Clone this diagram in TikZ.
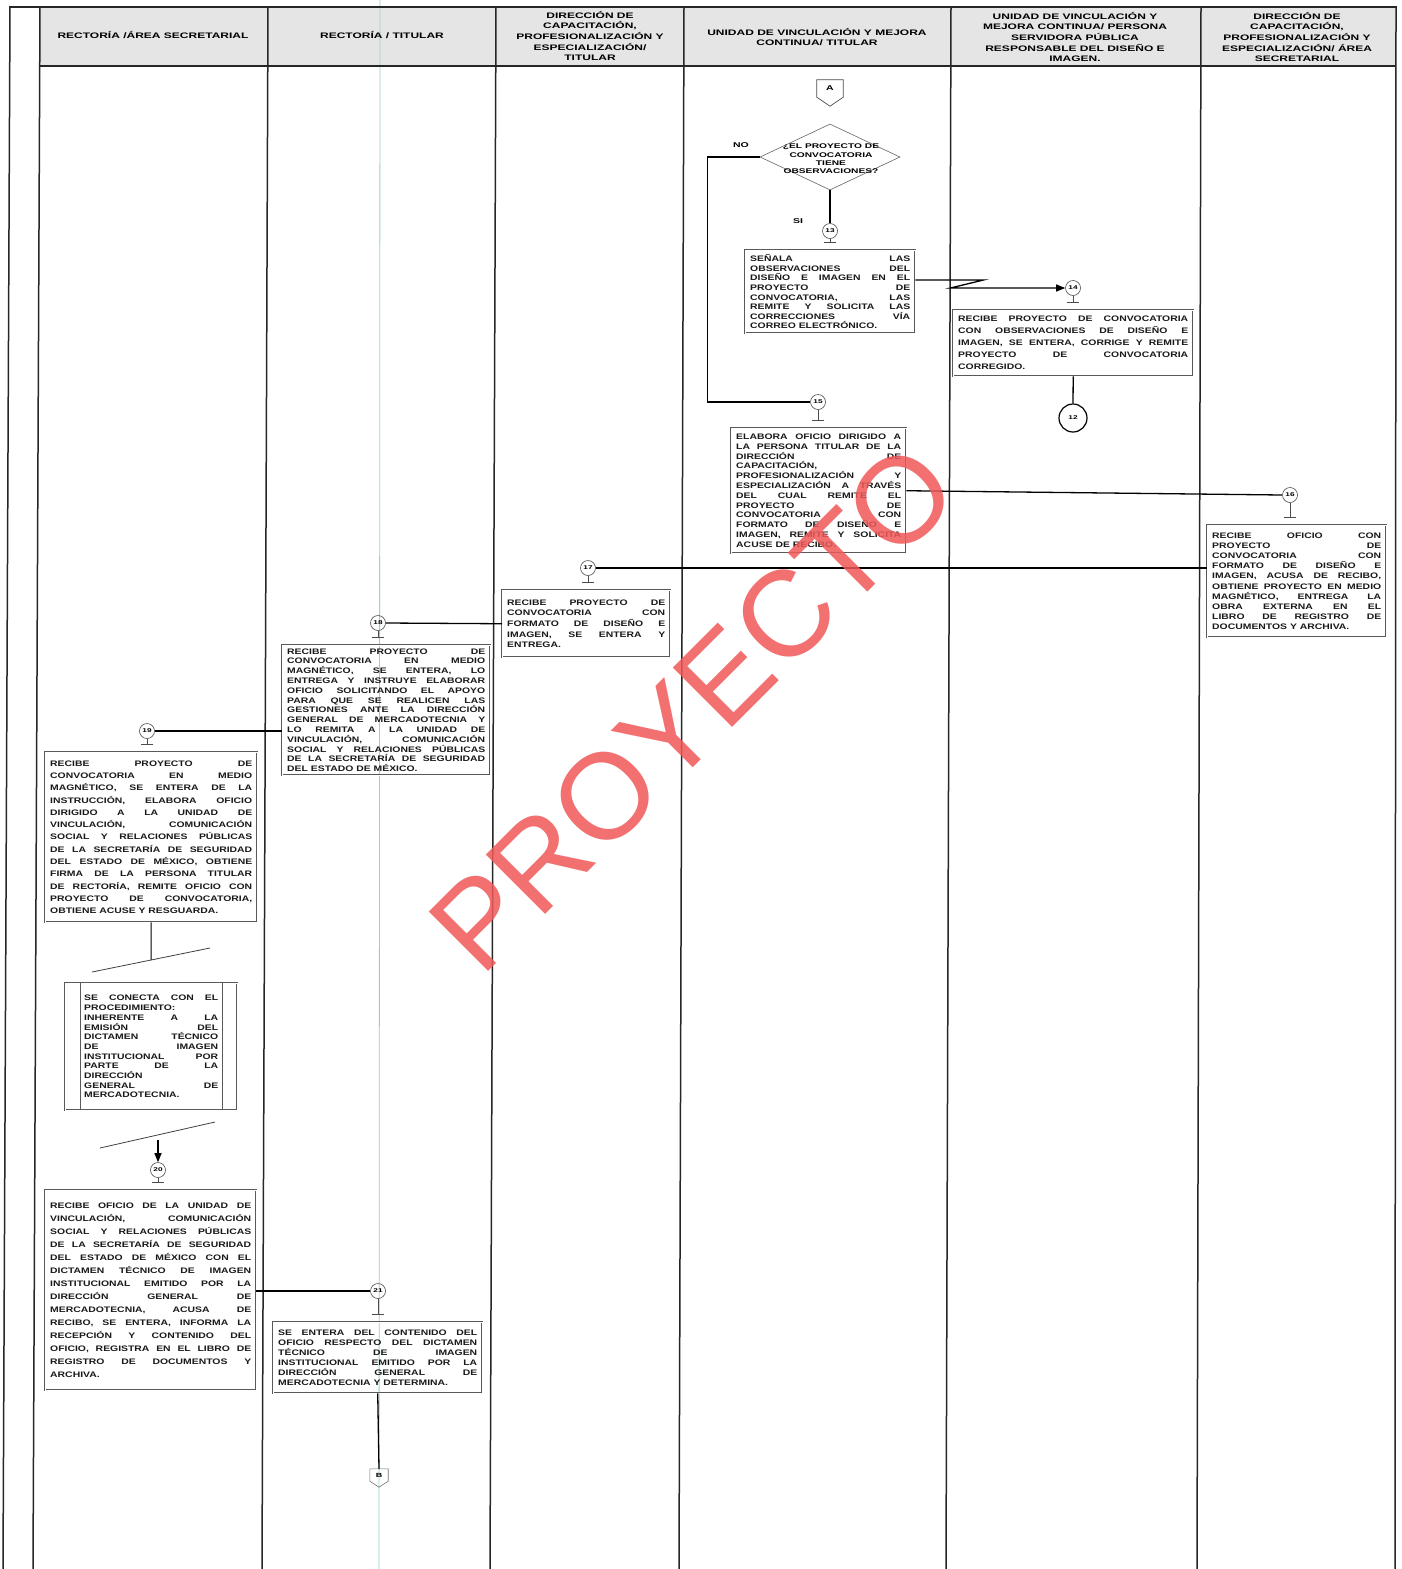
\documentclass[tikz,border=0pt]{standalone}
\usepackage{fontspec}
\setmainfont{Liberation Sans}
\newfontfamily\boxfont[FakeStretch=1.3]{Liberation Sans}
\newfontfamily\hdrfont[FakeStretch=1.5]{Liberation Sans}
\usetikzlibrary{shapes.geometric,calc,arrows.meta}
\tolerance=10000 \hbadness=10000 \hyphenpenalty=10000
\def\bt#1{\boxfont\bfseries\fontsize{8}{#1}\selectfont}
\tikzset{
  proc/.style={draw=black!65, line width=0.45pt, double=white, double distance=1.1pt,
    anchor=north west, inner sep=0pt, align=justify, text=black!90},
  conn/.style={circle, draw=black!70, line width=0.6pt, minimum size=15pt, inner sep=0pt,
    font=\hdrfont\bfseries\fontsize{5.5}{6}\selectfont},
  flow/.style={draw=black, line width=1.3pt},
  stemline/.style={draw=black!70, line width=0.6pt},
  lane/.style={draw=black!85, line width=1.5pt},
  hdr/.style={align=center, inner sep=0pt, font=\hdrfont\bfseries\fontsize{8}{10.6}\selectfont},
  lbl/.style={inner sep=0pt, font=\hdrfont\bfseries\fontsize{7}{8}\selectfont},
}
\newcommand\stemto[2]{\draw[stemline] (#1.south) -- ($(#1.south |- #2.north)+(0,-8)$);
  \draw[stemline] ($(#1.south |- #2.north)+(-6,-8)$) -- ($(#1.south |- #2.north)+(6,-8)$);}
\begin{document}
\begin{tikzpicture}[x=1pt,y=-1pt]
\useasboundingbox (0,0) rectangle (1401,1569);
\fill[white] (0,0) rectangle (1401,1569);
% header
\fill[black!10] (40,7) rectangle (1396,66);
\draw[color={rgb,255:red,150;green,210;blue,200}, line width=0.8pt] (380,0) -- (379,1569);
\foreach \xt/\xb in {10/3, 40/33, 268/262, 496/490, 684/679, 951/946, 1201/1197, 1396/1395}
  \draw[lane] (\xt,6) -- (\xb,1569);
\draw[lane] (10,7) -- (1396,7);
\draw[lane] (40,66) -- (1396,66);
\node[hdr] (h1) at (153,35) {RECTORÍA /ÁREA SECRETARIAL};
\node[hdr] (h2) at (382,35) {RECTORÍA / TITULAR};
\node[hdr] (h3) at (590,36) {DIRECCIÓN DE\\CAPACITACIÓN,\\PROFESIONALIZACIÓN Y\\ESPECIALIZACIÓN/\\TITULAR};
\node[hdr] (h4) at (817,37) {UNIDAD DE VINCULACIÓN Y MEJORA\\CONTINUA/ TITULAR};
\node[hdr] (h5) at (1075,37) {UNIDAD DE VINCULACIÓN Y\\MEJORA CONTINUA/ PERSONA\\SERVIDORA PÚBLICA\\RESPONSABLE DEL DISEÑO E\\IMAGEN.};
\node[hdr] (h6) at (1297,37) {DIRECCIÓN DE\\CAPACITACIÓN,\\PROFESIONALIZACIÓN Y\\ESPECIALIZACIÓN/ ÁREA\\SECRETARIAL};

% off-page connector A
\node[inner sep=0pt, minimum width=26pt, minimum height=17pt, font=\hdrfont\bfseries\fontsize{7}{8}\selectfont] (A) at (830,88.5) {A};
\draw[draw=black!70, line width=0.7pt] (A.north west) -- (A.north east) -- (A.south east) -- ($(A.south)+(0,9)$) -- (A.south west) -- cycle;

% decision
\node[diamond, draw=black!60, line width=0.6pt, minimum width=140pt, minimum height=66pt, inner sep=0pt] (dia) at (830,157) {};
\node[lbl, align=center, font=\hdrfont\bfseries\fontsize{6.8}{8.4}\selectfont] (diat) at (831,159) {¿EL PROYECTO DE\\CONVOCATORIA\\TIENE\\OBSERVACIONES?};
\node[lbl] (no) at (741,145) {NO};
\node[lbl] (si) at (798,221) {SI};

% connectors (circles)
\node[conn] (c13) at (830,231) {13};
\node[conn] (c14) at (1073,288) {14};
\node[conn, minimum size=28pt, line width=1.2pt, draw=black] (c12) at (1073,418) {12};
\node[conn] (c15) at (818,402) {15};
\node[conn] (c16) at (1290,495) {16};
\node[conn] (c17) at (588,568) {17};
\node[conn] (c18) at (378,623) {18};
\node[conn] (c19) at (147,731) {19};
\node[conn] (c20) at (158,1170) {20};
\node[conn] (c21) at (378,1291) {21};

% process boxes
\node[proc, minimum width=170pt, minimum height=83pt, text width=160pt, font=\bt{9.6}] (b13) at (745,250)
{SEÑALA LAS\linebreak OBSERVACIONES DEL\linebreak DISEÑO E IMAGEN EN EL\linebreak PROYECTO DE\linebreak CONVOCATORIA, LAS\linebreak REMITE Y SOLICITA LAS\linebreak CORRECCIONES VÍA\linebreak CORREO ELECTRÓNICO.};

\node[proc, minimum width=240pt, minimum height=66pt, text width=230pt, font=\bt{12}] (b14) at (953,310)
{RECIBE PROYECTO DE CONVOCATORIA\linebreak CON OBSERVACIONES DE DISEÑO E\linebreak IMAGEN, SE ENTERA, CORRIGE Y REMITE\linebreak PROYECTO DE CONVOCATORIA\linebreak CORREGIDO.};

\node[proc, minimum width=175pt, minimum height=125pt, text width=165pt, font=\bt{9.8}] (b15) at (731,428)
{ELABORA OFICIO DIRIGIDO A\linebreak LA PERSONA TITULAR DE LA\linebreak DIRECCIÓN DE\linebreak CAPACITACIÓN,\linebreak PROFESIONALIZACIÓN Y\linebreak ESPECIALIZACIÓN A TRAVÉS\linebreak DEL CUAL REMITE EL\linebreak PROYECTO DE\linebreak CONVOCATORIA CON\linebreak FORMATO DE DISEÑO E\linebreak IMAGEN, REMITE Y SOLICITA\linebreak ACUSE DE RECIBO.};

\node[proc, minimum width=179pt, minimum height=112pt, text width=169pt, font=\bt{10.2}] (b16) at (1207,525)
{RECIBE OFICIO CON\linebreak PROYECTO DE\linebreak CONVOCATORIA CON\linebreak FORMATO DE DISEÑO E\linebreak IMAGEN, ACUSA DE RECIBO,\linebreak OBTIENE PROYECTO EN MEDIO\linebreak MAGNÉTICO, ENTREGA LA\linebreak OBRA EXTERNA EN EL\linebreak LIBRO DE REGISTRO DE\linebreak DOCUMENTOS Y ARCHIVA.};

\node[proc, minimum width=168pt, minimum height=67pt, text width=158pt, font=\bt{10.6}] (b17) at (502,590)
{RECIBE PROYECTO DE\linebreak CONVOCATORIA CON\linebreak FORMATO DE DISEÑO E\linebreak IMAGEN, SE ENTERA Y\linebreak ENTREGA.};

\node[proc, minimum width=208pt, minimum height=130pt, text width=198pt, font=\bt{9.8}] (b18) at (282,645)
{RECIBE PROYECTO DE\linebreak CONVOCATORIA EN MEDIO\linebreak MAGNÉTICO, SE ENTERA, LO\linebreak ENTREGA Y INSTRUYE ELABORAR\linebreak OFICIO SOLICITANDO EL APOYO\linebreak PARA QUE SE REALICEN LAS\linebreak GESTIONES ANTE LA DIRECCIÓN\linebreak GENERAL DE MERCADOTECNIA Y\linebreak LO REMITA A LA UNIDAD DE\linebreak VINCULACIÓN, COMUNICACIÓN\linebreak SOCIAL Y RELACIONES PÚBLICAS\linebreak DE LA SECRETARÍA DE SEGURIDAD\linebreak DEL ESTADO DE MÉXICO.};

\node[proc, minimum width=212pt, minimum height=170pt, text width=202pt, font=\bt{12.3}] (b19) at (45,752)
{RECIBE PROYECTO DE\linebreak CONVOCATORIA EN MEDIO\linebreak MAGNÉTICO, SE ENTERA DE LA\linebreak INSTRUCCIÓN, ELABORA OFICIO\linebreak DIRIGIDO A LA UNIDAD DE\linebreak VINCULACIÓN, COMUNICACIÓN\linebreak SOCIAL Y RELACIONES PÚBLICAS\linebreak DE LA SECRETARÍA DE SEGURIDAD\linebreak DEL ESTADO DE MÉXICO, OBTIENE\linebreak FIRMA DE LA PERSONA TITULAR\linebreak DE RECTORÍA, REMITE OFICIO CON\linebreak PROYECTO DE CONVOCATORIA,\linebreak OBTIENE ACUSE Y RESGUARDA.};

\node[proc, minimum width=172pt, minimum height=127pt, text width=134pt, font=\bt{9.7}] (pp) at (65,983)
{SE CONECTA CON EL\linebreak PROCEDIMIENTO:\linebreak INHERENTE A LA\linebreak EMISIÓN DEL\linebreak DICTAMEN TÉCNICO\linebreak DE IMAGEN\linebreak INSTITUCIONAL POR\linebreak PARTE DE LA\linebreak DIRECCIÓN\linebreak GENERAL DE\linebreak MERCADOTECNIA.};
\draw[draw=black!65, line width=0.6pt] ($(pp.north west)+(15,0)$) -- ($(pp.south west)+(15,0)$);
\draw[draw=black!65, line width=0.6pt] ($(pp.north east)+(-15,0)$) -- ($(pp.south east)+(-15,0)$);

\node[proc, minimum width=211pt, minimum height=200pt, text width=201pt, font=\bt{13}] (b20) at (45,1190)
{RECIBE OFICIO DE LA UNIDAD DE\linebreak VINCULACIÓN, COMUNICACIÓN\linebreak SOCIAL Y RELACIONES PÚBLICAS\linebreak DE LA SECRETARÍA DE SEGURIDAD\linebreak DEL ESTADO DE MÉXICO CON EL\linebreak DICTAMEN TÉCNICO DE IMAGEN\linebreak INSTITUCIONAL EMITIDO POR LA\linebreak DIRECCIÓN GENERAL DE\linebreak MERCADOTECNIA, ACUSA DE\linebreak RECIBO, SE ENTERA, INFORMA LA\linebreak RECEPCIÓN Y CONTENIDO DEL\linebreak OFICIO, REGISTRA EN EL LIBRO DE\linebreak REGISTRO DE DOCUMENTOS Y\linebreak ARCHIVA.};

\node[proc, minimum width=209pt, minimum height=71pt, text width=199pt, font=\bt{10}] (b21) at (273,1322)
{SE ENTERA DEL CONTENIDO DEL\linebreak OFICIO RESPECTO DEL DICTAMEN\linebreak TÉCNICO DE IMAGEN\linebreak INSTITUCIONAL EMITIDO POR LA\linebreak DIRECCIÓN GENERAL DE\linebreak MERCADOTECNIA Y DETERMINA.};

% off-page connector B
\node[inner sep=0pt, minimum width=18pt, minimum height=12pt, font=\hdrfont\bfseries\fontsize{6}{7}\selectfont] (B) at (379,1475) {B};
\draw[draw=black!55, line width=0.6pt] (B.north west) -- (B.north east) -- (B.south east) -- ($(B.south)+(0,6)$) -- (B.south west) -- cycle;

% stems
\stemto{c13}{b13}
\stemto{c14}{b14}
\stemto{c15}{b15}
\stemto{c16}{b16}
\stemto{c17}{b17}
\stemto{c18}{b18}
\stemto{c19}{b19}
\stemto{c20}{b20}
\stemto{c21}{b21}

% flow lines
\draw[flow] (dia.west) -- ++(-52,0) |- (c15.west);
\draw[flow] (dia.south) -- (c13.north);
\draw[flow, -{Triangle[length=9pt,width=7pt]}] ($(b13.north east)+(0,30)$) -- ++(68,0) -- ++(-33,8) -- (c14.west);
\draw[flow] (b14.south) -- (c12.north);
\draw[flow] (b15.east) -- (c16.west);
\draw[flow] (c17.east) -- (c17.east -| b16.west);
\draw[flow] (b17.west) -- (c18.east);
\draw[flow] (c19.east) -- (c19.east -| b18.west);
\coordinate (brk1) at (151,960);
\coordinate (brk2) at (158,1140);
\draw[flow, line width=1pt] (b19.south) -- (brk1);
\draw[draw=black!75, line width=0.8pt] (92,972) -- (210,948);
\draw[draw=black!75, line width=0.8pt] (100,1148) -- (215,1122);
\draw[flow, -{Triangle[length=9pt,width=7pt]}] (brk2) -- (c20.north);
\draw[flow] (b20.east |- c21) -- (c21.west);
\draw[flow] (b21.south) -- (B.north);

% watermark
\node[rotate=45, inner sep=0pt, text={rgb,255:red,240;green,88;blue,88}, text opacity=0.85,
  font=\fontsize{122}{122}\selectfont] (wm) at (693,708) {PROYECTO};
\end{tikzpicture}
\end{document}
